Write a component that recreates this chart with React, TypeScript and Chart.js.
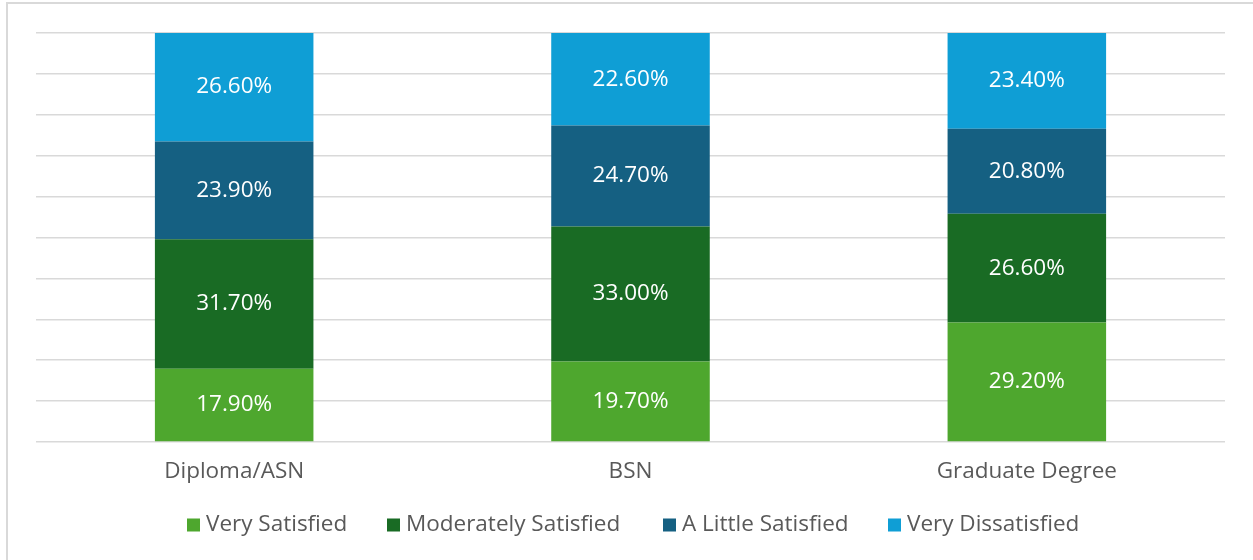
import React, { useEffect, useRef } from "react";
import { Chart, registerables } from "chart.js";

Chart.register(...registerables);

const categories = ["Diploma/ASN", "BSN", "Graduate Degree"];
const seriesNames = ["Very Satisfied", "Moderately Satisfied", "A Little Satisfied", "Very Dissatisfied"];
const verySatisfied = [17.9, 19.7, 29.2];
const moderatelySatisfied = [31.7, 33.0, 26.6];
const aLittleSatisfied = [23.9, 24.7, 20.8];
const veryDissatisfied = [26.6, 22.6, 23.4];
const colors = ["#4EA72E", "#196B24", "#156082", "#0F9ED5"];

const FONT = "'Open Sans', sans-serif";
const legendBoxX = [187, 387, 663, 888];

const dataLabelPlugin = {
  id: "dataLabels",
  afterDatasetsDraw(chart: any) {
    const ctx = chart.ctx;
    ctx.save();
    ctx.font = `22.5px ${FONT}`;
    ctx.fillStyle = "#ffffff";
    ctx.textAlign = "center";
    ctx.textBaseline = "middle";
    chart.data.datasets.forEach((ds: any, i: number) => {
      const meta = chart.getDatasetMeta(i);
      meta.data.forEach((el: any, j: number) => {
        const v = ds.data[j];
        const y = (el.y + el.base) / 2;
        ctx.fillText(`${v.toFixed(2)}%`, el.x, y);
      });
    });
    ctx.restore();
  },
};

const legendPlugin = {
  id: "customLegend",
  afterDraw(chart: any) {
    const ctx = chart.ctx;
    ctx.save();
    ctx.font = `22.5px ${FONT}`;
    ctx.textBaseline = "middle";
    ctx.textAlign = "left";
    const yc = 525;
    chart.data.datasets.forEach((ds: any, i: number) => {
      const x = legendBoxX[i];
      ctx.fillStyle = ds.backgroundColor;
      ctx.fillRect(x, yc - 6.5, 13, 13);
      ctx.fillStyle = "#595959";
      ctx.fillText(ds.label, x + 19, yc);
    });
    ctx.restore();
  },
};

export default function App() {
  const ref = useRef<HTMLCanvasElement>(null);
  useEffect(() => {
    if (!ref.current) return;
    const values = [verySatisfied, moderatelySatisfied, aLittleSatisfied, veryDissatisfied];
    const chart = new Chart(ref.current, {
      type: "bar",
      data: {
        labels: categories,
        datasets: seriesNames.map((name, i) => ({
          label: name,
          data: values[i],
          backgroundColor: colors[i],
          borderWidth: 0,
          categoryPercentage: 1,
          barPercentage: 0.4,
        })),
      },
      options: {
        animation: false,
        responsive: false,
        maintainAspectRatio: false,
        layout: { padding: { left: 36, right: 28, top: 33, bottom: 59 } },
        plugins: {
          legend: { display: false },
          tooltip: { enabled: false },
        },
        scales: {
          x: {
            stacked: true,
            grid: { display: false, drawTicks: false },
            border: { display: false },
            ticks: {
              padding: 16,
              color: "#595959",
              font: { family: FONT, size: 22.5 },
            },
          },
          y: {
            stacked: true,
            min: 0,
            max: 100,
            ticks: { display: false, stepSize: 10 },
            grid: { color: "#d9d9d9", lineWidth: 1.5, drawTicks: false },
            border: { display: false },
          },
        },
      },
      plugins: [dataLabelPlugin, legendPlugin],
    });
    return () => chart.destroy();
  }, []);

  return (
    <div style={{ position: "fixed", left: 0, top: 0, width: 1253, height: 560, background: "#ffffff" }}>
      <div
        style={{
          position: "absolute",
          left: 6,
          top: 2,
          width: 1253,
          height: 560,
          borderLeft: "2px solid #d9d9d9",
          borderTop: "2px solid #d9d9d9",
        }}
      />
      <canvas ref={ref} width={1253} height={560} style={{ position: "absolute", left: 0, top: 0 }} />
    </div>
  );
}
